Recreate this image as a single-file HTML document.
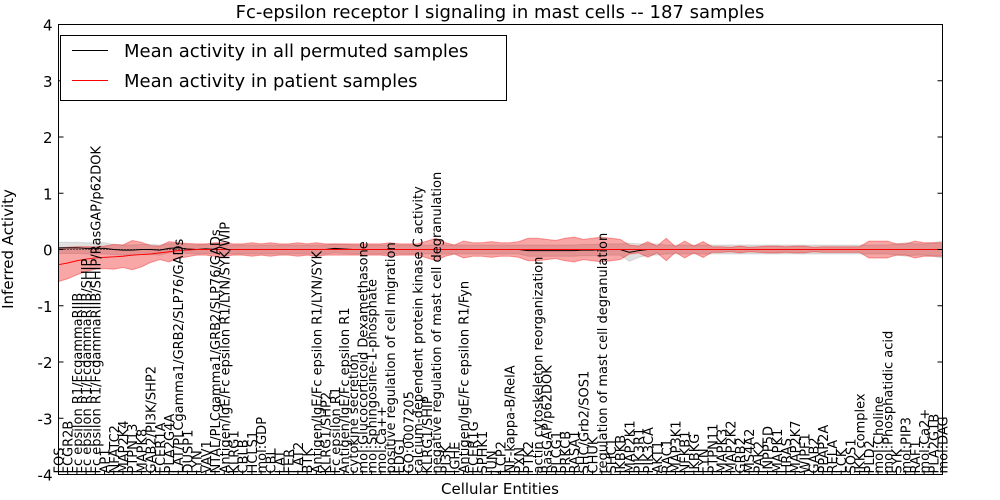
<!DOCTYPE html>
<html><head><meta charset="utf-8"><style>
body{margin:0;background:#fff;}
svg{display:block;font-family:"DejaVu Sans","Liberation Sans",sans-serif;}
</style></head><body>
<svg id="chart" width="1000" height="500" xmlns="http://www.w3.org/2000/svg">
<rect width="1000" height="500" fill="#fff"/>
<text x="500" y="18" font-size="18" text-anchor="middle">Fc-epsilon receptor I signaling in mast cells -- 187 samples</text>
<g id="bands"></g>
<g id="lines"></g>
<g id="yaxis"></g>
<g id="xaxis"></g>
<rect x="58.5" y="24.5" width="884" height="450" fill="none" stroke="#000" stroke-width="1"/>
<text transform="translate(13,249) rotate(-90)" font-size="15" text-anchor="middle">Inferred Activity</text>
<text x="500" y="494" font-size="15" text-anchor="middle">Cellular Entities</text>
<g>
<rect x="60.5" y="35.5" width="446" height="65" fill="#fff" stroke="#000"/>
<line x1="72" y1="50.5" x2="108" y2="50.5" stroke="#000"/>
<text x="124" y="57" font-size="18">Mean activity in all permuted samples</text>
<line x1="72" y1="80.5" x2="108" y2="80.5" stroke="red"/>
<text x="124" y="87" font-size="18">Mean activity in patient samples</text>
</g>
</svg>
<script>
const labels=["FOS","FCGR2B","Fc epsilon R1/FcgammaRIIB","Fc epsilon R1/FcgammaRIIB/SHIP","Fc epsilon R1/FcgammaRIIB/SHIP/RasGAP/p62DOK","AP1","NFATC2","MAP2K4","PTPN13","MAPK8","GAB2/PI3K/SHP2","FCER1A","PLA2G4A","LAT/PLCgamma1/GRB2/SLP76/GADs","DUSP1","LYN","VAV1","NTAL/PLCgamma1/GRB2/SLP76/GADs","Antigen/IgE/Fc epsilon R1/LYN/SYK/WIP","KLRG1","CBLB","HCLS1","mol:GDP","CBL","LAT","FER","LAT2","BTK","Antigen/IgE/Fc epsilon R1/LYN/SYK","KLRG1/SHP2","Fc epsilon R1","Antigen/IgE/Fc epsilon R1","cytokine secretion","mol:Glucocorticoid Dexamethasone","mol:Sphingosine-1-phosphate","mol:Ca++","positive regulation of cell migration","EDG1","GO:0007205","calcium-dependent protein kinase C activity","KLRG1/SHIP","negative regulation of mast cell degranulation","PI3K","IGHE","Antigen/IgE/Fc epsilon R1/Fyn","FCER1G","SPHK1","JUN","LCP2","NF-kappa-B/RelA","PXN","PTK2","actin cytoskeleton reorganization","RasGAP/p62DOK","PLCG1","PRKCB","RASA1","SHC/Grb2/SOS1","CHUK","regulation of mast cell degranulation","SHC1","IKBKB","MAP2K1","PIK3R1","PIK3CA","AKT1","RAC1","MAP3K1","NFKB1","IKBKG","FYN","PTPN11","MAPK3","MAP2K2","GRB2","MS4A2","PAK2","INPP5D","MAPK1","HRAS","MAP2K7","WIPF1","GAB2","PPAP2A","RELA","LCK","SOS1","IKK complex","PLD2","mol:Choline","mol:Phosphatidic acid","SYK","mol:PIP3","RAF1","mol:Ca2+","PLA2G1B","mol:DAG"];
const redMean=[-0.27,-0.24,-0.2,-0.17,-0.15,-0.14,-0.13,-0.12,-0.1,-0.09,-0.08,-0.06,-0.04,-0.02,-0.01,0,0,0,0,0,0,0,0,0,0,0,0,0,0,0,0,0,0,0,0,0,0,0,0,0,0,0,0,0,0,0,0,0,0,0,0,0,0,0,0,0,0,0,0,0,0,0,0,0,0,0,0,0,0,0,0,0,0,0,0,0,0,0,0,0,0,0,0,0,0,0,0,0,0,0,0,0,0,0,0,0,0];
const redSd=[0.3,0.28,0.25,0.22,0.2,0.2,0.22,0.2,0.26,0.22,0.15,0.12,0.18,0.14,0.12,0.1,0.1,0.12,0.12,0.1,0.1,0.12,0.1,0.12,0.1,0.1,0.12,0.1,0.12,0.1,0.1,0.1,0.1,0.1,0.1,0.1,0.12,0.1,0.1,0.1,0.15,0.2,0.12,0.08,0.15,0.12,0.12,0.14,0.12,0.12,0.14,0.2,0.2,0.18,0.16,0.2,0.22,0.18,0.2,0.22,0.2,0.18,0.08,0.06,0.14,0.06,0.2,0.05,0.15,0.06,0.14,0.05,0.05,0.04,0.06,0.04,0.05,0.06,0.06,0.05,0.06,0.06,0.04,0.05,0.05,0.05,0.05,0.05,0.15,0.15,0.15,0.1,0.1,0.15,0.12,0.12,0.12];
const blackMean=[0.03,0.03,0.03,0.02,0.02,0.02,0,-0.01,-0.01,0,0,-0.01,0.02,0.03,0.01,0,0.01,0,0,0,0,0,0,0,0,0,0,0,0,0,0.02,0.01,0,0,0,0,0,0,0,0,0,0,0,0,0,0,0,0,0,0,0,-0.02,-0.02,-0.02,-0.02,-0.02,-0.02,-0.01,-0.01,0,0,0,-0.05,-0.02,0,0,0,0,0,0,0,0,0,0,0,0,0,0,0,0,0,0,0,0,0,0,0,0,0,0,0,0,0,0,0,0,0];
const blackSd=[0.1,0.1,0.1,0.1,0.1,0.1,0.09,0.09,0.09,0.09,0.09,0.09,0.08,0.08,0.08,0.08,0.08,0.08,0.08,0.08,0.08,0.08,0.08,0.08,0.08,0.08,0.08,0.08,0.08,0.08,0.08,0.08,0.08,0.08,0.08,0.08,0.08,0.08,0.08,0.08,0.08,0.08,0.08,0.08,0.08,0.08,0.08,0.08,0.08,0.08,0.08,0.1,0.1,0.1,0.1,0.1,0.1,0.1,0.1,0.1,0.1,0.1,0.16,0.12,0.1,0.1,0.08,0.08,0.08,0.08,0.08,0.08,0.08,0.08,0.08,0.08,0.08,0.08,0.08,0.08,0.08,0.08,0.08,0.08,0.08,0.08,0.08,0.08,0.08,0.08,0.08,0.1,0.12,0.1,0.1,0.12,0.15];
const yTicks=[4,3,2,1,0,-1,-2,-3,-4];
const NS="http://www.w3.org/2000/svg";
const X0=58.5,X1=942.5,Y0=24.5,Y1=474.5;
const n=labels.length;
function xs(i){return X0+(X1-X0)*i/(n-1);}
function ys(v){return Y1-(v+4)/8*(Y1-Y0);}
function mk(tag,attrs,parent){const e=document.createElementNS(NS,tag);for(const k in attrs)e.setAttribute(k,attrs[k]);parent.appendChild(e);return e;}
const bands=document.getElementById('bands'),lines=document.getElementById('lines'),ya=document.getElementById('yaxis'),xa=document.getElementById('xaxis');
function band(mean,sd,fill,op,name){
  let up=[],dn=[];
  for(let i=0;i<n;i++){up.push(xs(i)+','+ys(mean[i]+sd[i]));dn.unshift(xs(i)+','+ys(mean[i]-sd[i]));}
  const p=mk('polygon',{points:up.concat(dn).join(' '),fill:fill,'fill-opacity':op,stroke:fill,'stroke-opacity':op},bands);
  
  
}
band(blackMean,blackSd,'#999',0.3,'permuted-band');
band(redMean,redSd,'#e00',0.35,'patient-band');
const zl=mk('line',{x1:X0,x2:X1,y1:ys(0),y2:ys(0),stroke:'#000','stroke-dasharray':'1,2'},lines);


function line(mean,col,name){
  const pts=mean.map((v,i)=>xs(i)+','+ys(v)).join(' ');
  const l=mk('polyline',{points:pts,fill:'none',stroke:col,'stroke-width':1},lines);
  
  
}
line(blackMean,'#000','permuted-mean-line');
line(redMean,'red','patient-mean-line');
yTicks.forEach(t=>{
  const y=ys(t);
  mk('line',{x1:X0,x2:X0+5,y1:y,y2:y,stroke:'#000'},ya);
  mk('line',{x1:X1-5,x2:X1,y1:y,y2:y,stroke:'#000'},ya);
  const tx=mk('text',{x:X0-6,y:y+6,'font-size':15,'text-anchor':'end'},ya);
  tx.textContent=t;
  
  
});
labels.forEach((lb,i)=>{
  const x=xs(i);
  mk('line',{x1:x,x2:x,y1:Y1,y2:Y1-4,stroke:'#000'},xa);
  const t=mk('text',{transform:'translate('+(x+5)+','+(Y1-1)+') rotate(-90)','font-size':13},xa);
  t.textContent=lb;
  
  
});
</script>
</body></html>
